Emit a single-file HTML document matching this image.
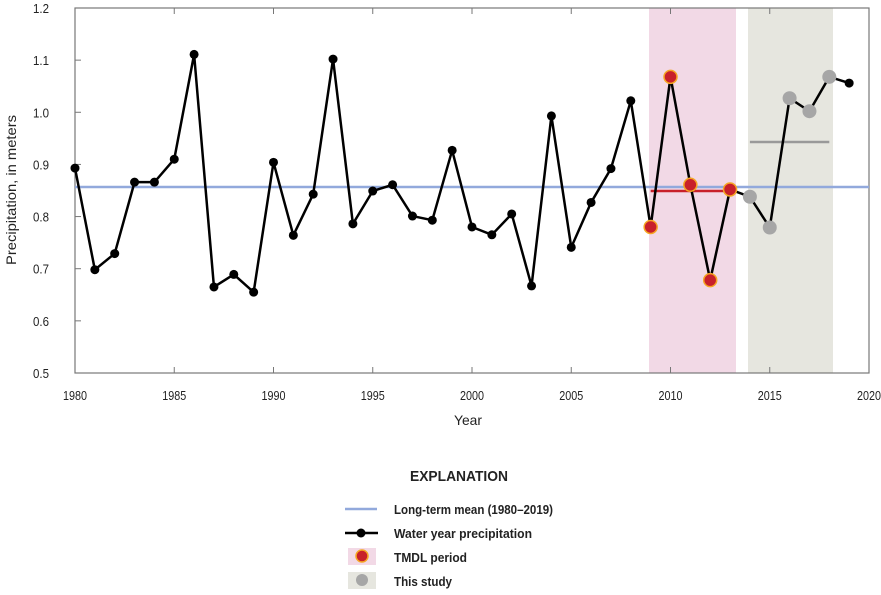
<!DOCTYPE html>
<html><head><meta charset="utf-8"><style>
body{margin:0;background:#fff;}
svg text{font-family:"Liberation Sans Narrow","Liberation Sans",sans-serif;fill:#222;}
</style></head><body>
<svg id="s" width="881" height="590" xmlns="http://www.w3.org/2000/svg"></svg>
<script>
const d=[.893,.698,.729,.866,.866,.910,1.111,.665,.689,.655,.904,.764,.843,1.102,.786,.849,.861,.801,.793,.927,.780,.765,.805,.667,.993,.741,.827,.892,1.022,.780,1.068,.861,.678,.852,.838,.779,1.027,1.002,1.068,1.056];
const X=y=>75+(y-1980)*19.85, Y=v=>8+(1.2-v)*521.4;
const L=(w)=>`textLength="${w}" lengthAdjust="spacingAndGlyphs"`;
let h='';
h+=`<rect x="649" y="8" width="87" height="365" fill="#f2d9e6"/>`;
h+=`<rect x="748" y="8" width="85" height="365" fill="#e6e6df"/>`;
h+=`<rect x="75" y="8" width="794" height="365" fill="none" stroke="#777" stroke-width="1.2"/>`;
for(let v=0.6;v<1.19;v+=0.1){h+=`<line x1="75" x2="81" y1="${Y(v)}" y2="${Y(v)}" stroke="#777"/>`;}
for(let v=0.5;v<1.21;v+=0.1){h+=`<text x="33" y="${Y(v)+5}" font-size="13" ${L(16)}>${v.toFixed(1)}</text>`;}
for(let y=1980;y<=2020;y+=5){h+=`<line x1="${X(y)}" x2="${X(y)}" y1="373" y2="367" stroke="#777"/><line x1="${X(y)}" x2="${X(y)}" y1="8" y2="14" stroke="#777"/>`;h+=`<text x="${X(y)-12}" y="400" font-size="13" ${L(24)}>${y}</text>`;}
h+=`<text x="454" y="425" font-size="14" ${L(28)}>Year</text>`;
h+=`<text transform="translate(16,265) rotate(-90)" font-size="14" ${L(150)}>Precipitation, in meters</text>`;
h+=`<line x1="75" x2="869" y1="187" y2="187" stroke="#92a9dc" stroke-width="2.5"/>`;
h+=`<line x1="${X(2009)}" x2="${X(2013)}" y1="${Y(.849)}" y2="${Y(.849)}" stroke="#c8202a" stroke-width="2.5"/>`;
h+=`<line x1="${X(2014)}" x2="${X(2018)}" y1="${Y(.943)}" y2="${Y(.943)}" stroke="#999" stroke-width="2.5"/>`;
h+=`<polyline fill="none" stroke="#000" stroke-width="2.5" points="${d.map((v,i)=>X(1980+i)+','+Y(v)).join(' ')}"/>`;
d.forEach((v,i)=>{const y=1980+i;
 if(y>=2009&&y<=2013) h+=`<circle cx="${X(y)}" cy="${Y(v)}" r="6.5" fill="#c8202a" stroke="#f5a623" stroke-width="1.5"/>`;
 else if(y>=2014&&y<=2018) h+=`<circle cx="${X(y)}" cy="${Y(v)}" r="7" fill="#a6a6a6"/>`;
 else h+=`<circle cx="${X(y)}" cy="${Y(v)}" r="4.5" fill="#000"/>`;});
h+=`<text x="410" y="481" font-size="15" font-weight="bold" ${L(98)}>EXPLANATION</text>`;
h+=`<line x1="345" x2="377" y1="509" y2="509" stroke="#92a9dc" stroke-width="2.5"/>`;
h+=`<line x1="345" x2="378" y1="533" y2="533" stroke="#000" stroke-width="2.5"/><circle cx="361" cy="533" r="4.5"/>`;
h+=`<rect x="348" y="548" width="28" height="17" fill="#f2d9e6"/><circle cx="362" cy="556" r="6" fill="#c8202a" stroke="#f5a623" stroke-width="1.5"/>`;
h+=`<rect x="348" y="572" width="28" height="17" fill="#e6e6df"/><circle cx="362" cy="580" r="6" fill="#a6a6a6"/>`;
[["Long-term mean (1980–2019)",509,159],["Water year precipitation",533,138],["TMDL period",557,73],["This study",581,58]].forEach(([t,y,w])=>h+=`<text x="394" y="${y+5}" font-size="13" font-weight="bold" ${L(w)}>${t}</text>`);
document.getElementById('s').innerHTML=h;
</script>
</body></html>
